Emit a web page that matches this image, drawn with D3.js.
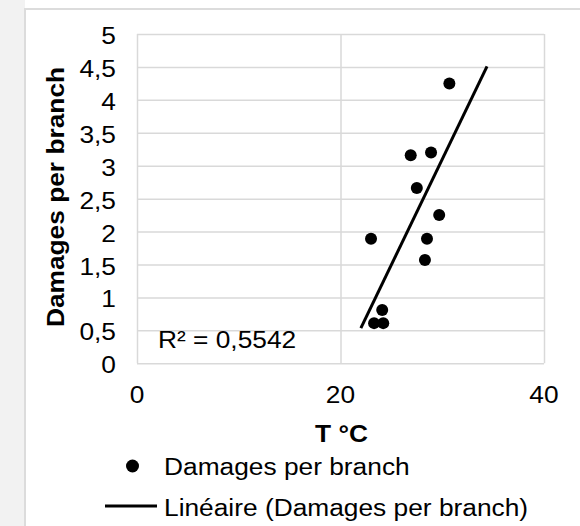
<!DOCTYPE html>
<html>
<head>
<meta charset="utf-8">
<script src="https://cdn.jsdelivr.net/npm/d3@7"></script>
<style>
  body { margin: 0; background: #ffffff; }
  svg { display: block; font-family: "Liberation Sans", Arial, sans-serif; }
</style>
</head>
<body>
<svg id="chart" width="580" height="526"></svg>
<script>
// Observations: mean temperature (°C) and damages counted per branch
const temperature = [30.7, 26.9, 28.9, 27.5, 29.7, 23.0, 28.5, 28.3, 24.1, 23.3, 24.2];
const damages     = [4.25, 3.16, 3.20, 2.66, 2.25, 1.89, 1.89, 1.57, 0.81, 0.61, 0.61];

const xTicks = [0, 20, 40];
const yTicks = [0, 0.5, 1, 1.5, 2, 2.5, 3, 3.5, 4, 4.5, 5];
const trendRange = [22, 34.4];          // x extent of the linear trendline
const r2Label = "R² = 0,5542";
const seriesName = "Damages per branch";
const trendName = "Linéaire (Damages per branch)";
const xTitle = "T °C";
const yTitle = "Damages per branch";

const svg = d3.select("#chart");
const W = 580, H = 526;
const plot = { left: 137, right: 544, top: 34, bottom: 363.3 };
const FONT = 23.5, STRETCH = 1.12;
const grid = "#d9d9d9";

// Frame: grey side strip with a light border
svg.append("rect").attr("x", 0).attr("y", 0).attr("width", 25).attr("height", H).attr("fill", "#f2f2f2");
svg.append("line").attr("x1", 25).attr("x2", W).attr("y1", 9).attr("y2", 9)
  .attr("stroke", "#dcdcdc").attr("stroke-width", 2);
svg.append("line").attr("x1", 25).attr("x2", 25).attr("y1", 8).attr("y2", H)
  .attr("stroke", "#dcdcdc").attr("stroke-width", 2);

const x = d3.scaleLinear().domain([0, 40]).range([plot.left, plot.right]);
const y = d3.scaleLinear().domain([0, 5]).range([plot.bottom, plot.top]);

const fr = d3.formatLocale({ decimal: ",", thousands: " ", grouping: [3], currency: ["", ""] });
const fmt = fr.format(".1~f");

// Gridlines
svg.append("g")
  .attr("transform", `translate(${plot.left},0)`)
  .call(d3.axisLeft(y).tickValues(yTicks).tickSize(-(plot.right - plot.left)).tickFormat(""))
  .call(g => g.select(".domain").remove())
  .call(g => g.selectAll("line").attr("stroke", grid).attr("stroke-width", 1.5));
svg.append("g")
  .attr("transform", `translate(0,${plot.bottom})`)
  .call(d3.axisBottom(x).tickValues(xTicks).tickSize(-(plot.bottom - plot.top)).tickFormat(""))
  .call(g => g.select(".domain").remove())
  .call(g => g.selectAll("line").attr("stroke", grid).attr("stroke-width", 1.5));

// Horizontally widened text helper
function label(parent, txt, px, py, anchor, opts = {}) {
  const g = parent.append("g").attr("transform", `translate(${px},${py})${opts.rotate ? ` rotate(${opts.rotate})` : ""}`);
  g.append("text")
    .attr("transform", `scale(${STRETCH},1)`)
    .attr("text-anchor", anchor)
    .attr("font-size", FONT)
    .attr("font-weight", opts.bold ? "bold" : "normal")
    .attr("fill", "#000")
    .text(txt);
  return g;
}

// Y tick labels
const yAxis = svg.append("g");
yTicks.forEach(v => label(yAxis, fmt(v), 116, y(v) + 10, "end"));
// X tick labels
const xAxis = svg.append("g");
xTicks.forEach(v => label(xAxis, fmt(v), x(v), 403, "middle"));

// Axis titles
label(svg, xTitle, (plot.left + plot.right) / 2 + 1, 442, "middle", { bold: true });
label(svg, yTitle, 64, 197, "middle", { bold: true, rotate: -90 });

// Linear least-squares trendline computed from the observations
const n = temperature.length;
const mx = d3.mean(temperature), my = d3.mean(damages);
let sxy = 0, sxx = 0;
for (let i = 0; i < n; i++) {
  sxy += (temperature[i] - mx) * (damages[i] - my);
  sxx += (temperature[i] - mx) ** 2;
}
const slope = sxy / sxx, intercept = my - slope * mx;
const trend = trendRange.map(t => [t, intercept + slope * t]);

// Points
svg.append("g").selectAll("circle")
  .data(d3.zip(temperature, damages))
  .join("circle")
  .attr("cx", d => x(d[0]))
  .attr("cy", d => y(d[1]))
  .attr("r", 6)
  .attr("fill", "#000");

svg.append("path")
  .datum(trend)
  .attr("d", d3.line().x(d => x(d[0])).y(d => y(d[1])))
  .attr("fill", "none")
  .attr("stroke", "#000")
  .attr("stroke-width", 3);

// R² annotation
label(svg, r2Label, 158, 348, "start");

// Legend
svg.append("circle").attr("cx", 132.5).attr("cy", 466).attr("r", 6.5).attr("fill", "#000");
label(svg, seriesName, 164, 475, "start");
svg.append("line").attr("x1", 105).attr("x2", 157).attr("y1", 506).attr("y2", 506)
  .attr("stroke", "#000").attr("stroke-width", 3);
label(svg, trendName, 164, 516, "start");
</script>
</body>
</html>
